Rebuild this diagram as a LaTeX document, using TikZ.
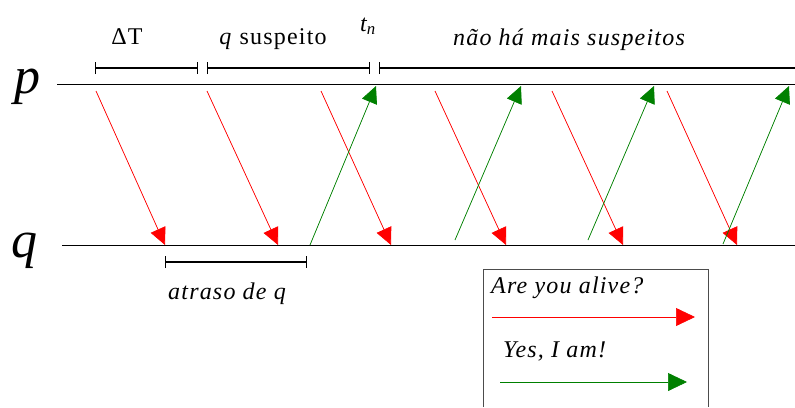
\documentclass[tikz,border=0pt]{standalone}
\usepackage{fontspec}
\setmainfont{Liberation Serif}[LetterSpace=5]
\usetikzlibrary{arrows.meta}
\definecolor{askred}{HTML}{FF0000}
\definecolor{replygreen}{HTML}{008000}

\begin{document}
\begin{tikzpicture}[
      x=1pt,
      y=-1pt,
      font=\fontsize{24}{28}\selectfont,
      proc/.style={line width=1pt, draw=black},
      span/.style={{Bar[width=12pt]}-{Bar[width=12pt]}, line width=1.1pt},
      openspan/.style={{Bar[width=12pt]}-, line width=1.1pt},
      ask/.style={-{Triangle[length=17pt, width=16pt]}, line width=0.7pt, draw=askred, fill=askred},
      reply/.style={-{Triangle[length=17pt, width=16pt]}, line width=0.7pt, draw=replygreen, fill=replygreen}
  ]
    \useasboundingbox (0,0) rectangle (795,407);
    \node[font=\fontsize{52}{52}\selectfont\itshape, anchor=base] (plabel) at (27,93) {p};
    \node[font=\fontsize{52}{52}\selectfont\itshape, anchor=base] (qlabel) at (25,257) {q};
    \coordinate (pstart) at (57,84);
    \coordinate (pend) at (795,84);
    \coordinate (qstart) at (62,245);
    \coordinate (qend) at (795,245);
    \draw[proc] (pstart) -- (pend);
    \draw[proc] (qstart) -- (qend);
    \foreach \a/\b [count=\i] in {96/165, 207/278, 321/391, 435/506, 552/623, 667/737} {
      \coordinate (ask\i src) at (\a,91);
      \coordinate (ask\i dst) at (\b,245);
      \draw[ask] (ask\i src) -- (ask\i dst);
    }
    \foreach \a/\b/\c [count=\i] in {310/376/245, 455/521/240, 588/654/240, 723/789/244} {
      \coordinate (reply\i src) at (\a,\c);
      \coordinate (reply\i dst) at (\b,86);
      \draw[reply] (reply\i src) -- (reply\i dst);
    }
    \coordinate (s0) at (95,68);
    \coordinate (s1) at (198,68);
    \coordinate (s2) at (207,68);
    \coordinate (s3) at (370,68);
    \coordinate (s4) at (379,68);
    \coordinate (s5) at (795,68);
    \draw[span] (s0) -- (s1);
    \draw[span] (s2) -- (s3);
    \draw[openspan] (s4) -- (s5);
    \node[anchor=base] (period) at (127,44) {ΔT};
    \node[anchor=base] (suspect) at (273,44) {\textit{q} suspeito};
    \node[anchor=base, font=\fontsize{24}{28}\selectfont\itshape] (tn) at (368,31) {t\textsubscript{n}};
    \node[anchor=base, font=\fontsize{24}{28}\selectfont\itshape] (nomore) at (569,45) {não há mais suspeitos};
    \coordinate (d0) at (165,262);
    \coordinate (d1) at (307,262);
    \draw[span] (d0) -- (d1);
    \node[anchor=base, font=\fontsize{24}{28}\selectfont\itshape] (delay) at (227,299) {atraso de q};
    \draw[line width=1pt, draw=black!70] (483,407) |- (708,269) -- (708,407);
    \node[anchor=base west, font=\fontsize{24}{28}\selectfont\itshape, inner sep=0pt] (askkey) at (491,293) {Are you alive?};
    \node[anchor=base west, font=\fontsize{24}{28}\selectfont\itshape, inner sep=0pt] (replykey) at (503,357) {Yes, I am!};
    \coordinate (k0) at (492,317);
    \coordinate (k1) at (695,317);
    \coordinate (k2) at (500,382);
    \coordinate (k3) at (687,382);
    \draw[ask, -{Triangle[length=19pt, width=18pt]}] (k0) -- (k1);
    \draw[reply, -{Triangle[length=19pt, width=18pt]}] (k2) -- (k3);
  \end{tikzpicture}
\end{document}
